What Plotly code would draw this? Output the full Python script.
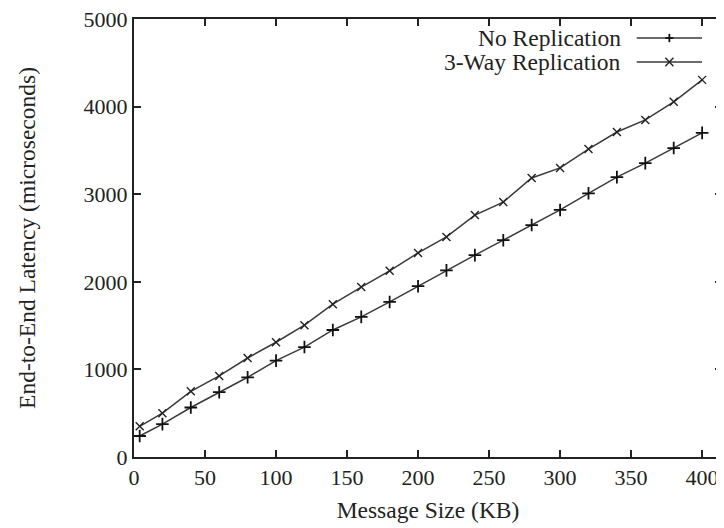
import plotly.graph_objects as go

msg_size = [4, 20, 40, 60, 80, 100, 120, 140, 160, 180, 200, 220, 240, 260, 280, 300, 320, 340, 360, 380, 400]
no_repl = [240, 375, 565, 740, 910, 1100, 1255, 1450, 1600, 1770, 1950, 2130, 2305, 2475, 2648, 2820, 3010, 3195, 3355, 3527, 3700]
three_way = [350, 500, 750, 925, 1130, 1310, 1505, 1745, 1940, 2125, 2330, 2512, 2762, 2910, 3185, 3300, 3515, 3710, 3848, 4055, 4305]
names = ["No Replication", "3-Way Replication"]
x_ticks = [0, 50, 100, 150, 200, 250, 300, 350, 400]
y_ticks = [0, 1000, 2000, 3000, 4000, 5000]

FONT = "Times New Roman, Liberation Serif, serif"
LINE = "#3a3a3a"

fig = go.Figure()
fig.add_trace(go.Scatter(x=msg_size, y=no_repl, mode="lines+markers", name=names[0],
                         line=dict(color=LINE, width=1.5),
                         marker=dict(symbol="cross-thin", size=9, line=dict(color="#111", width=1.8))))
fig.add_trace(go.Scatter(x=msg_size, y=three_way, mode="lines+markers", name=names[1],
                         line=dict(color=LINE, width=1.5),
                         marker=dict(symbol="x-thin", size=8, line=dict(color="#222", width=1.4))))

# gnuplot-style legend (text right-aligned, sample on the right)
rows = [0.9566, 0.9018]
x_text, x_l0, x_l1, x_m = 0.832, 0.855, 0.966, 0.9105
dx, dy = 0.0068, 0.0095
for i, (nm, yy) in enumerate(zip(names, rows)):
    fig.add_annotation(x=x_text, y=yy, xref="paper", yref="paper", text=nm, showarrow=False,
                       xanchor="right", yanchor="middle", font=dict(family=FONT, size=23.5, color="#222"))
    fig.add_shape(type="line", xref="paper", yref="paper", x0=x_l0, x1=x_l1, y0=yy, y1=yy,
                  line=dict(color=LINE, width=1.5))
    if i == 0:
        fig.add_shape(type="line", xref="paper", yref="paper", x0=x_m, x1=x_m, y0=yy - dy, y1=yy + dy,
                      line=dict(color="#111", width=1.8))
        fig.add_shape(type="line", xref="paper", yref="paper", x0=x_m - dx, x1=x_m + dx, y0=yy, y1=yy,
                      line=dict(color="#111", width=1.8))
    else:
        fig.add_shape(type="line", xref="paper", yref="paper", x0=x_m - dx, x1=x_m + dx, y0=yy - dy, y1=yy + dy,
                      line=dict(color="#222", width=1.4))
        fig.add_shape(type="line", xref="paper", yref="paper", x0=x_m - dx, x1=x_m + dx, y0=yy + dy, y1=yy - dy,
                      line=dict(color="#222", width=1.4))

axis_common = dict(showgrid=False, zeroline=False, showline=True, linecolor="#222", linewidth=2,
                   mirror="ticks", ticks="inside", ticklen=7, tickwidth=2, tickcolor="#222",
                   tickfont=dict(family=FONT, size=22, color="#222"), automargin=False,
                   ticklabeloverflow="allow")
fig.update_xaxes(range=[0, 414], tickvals=x_ticks, ticktext=[str(v) for v in x_ticks],
                 title=dict(text="Message Size (KB)", font=dict(family=FONT, size=23.5, color="#222"), standoff=12),
                 **axis_common)
fig.update_yaxes(range=[0, 5000], tickvals=y_ticks, ticktext=[str(v) for v in y_ticks],
                 title=dict(text="End-to-End Latency (microseconds)", font=dict(family=FONT, size=23.5, color="#222"), standoff=41),
                 **axis_common)

# page has an 8px body margin: figure placed at (8, 8)
fig.update_layout(width=716, height=520, margin=dict(l=126, r=2, t=11, b=71, autoexpand=False),
                  paper_bgcolor="white", plot_bgcolor="white", showlegend=False,
                  font=dict(family=FONT, color="#222"))
fig.write_html("out.html")
